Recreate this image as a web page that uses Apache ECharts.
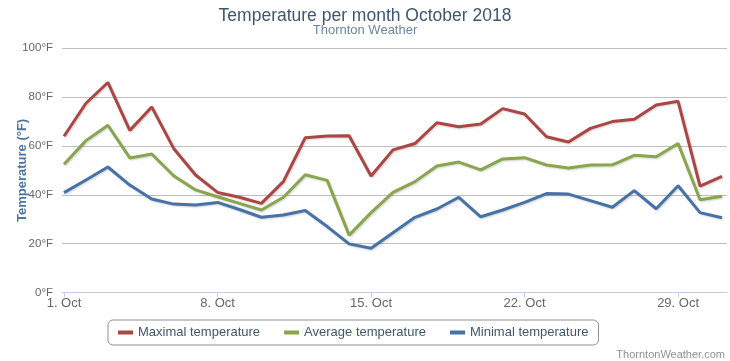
<!DOCTYPE html>
<html><head><meta charset="utf-8">
<script src="https://cdn.jsdelivr.net/npm/echarts@6/dist/echarts.min.js"></script>
<style>html,body{margin:0;padding:0;background:#fff}#c{width:730px;height:361px}</style>
</head><body><div id="c"></div>
<script>
var days = [1,2,3,4,5,6,7,8,9,10,11,12,13,14,15,16,17,18,19,20,21,22,23,24,25,26,27,28,29,30,31];
var tickDays = [1,8,15,22,29];
var maxTemp = [64,77.5,86,66.4,76,59,48.1,41,39,36.5,45.4,63.4,64.1,64.2,47.7,58.4,61,69.5,67.9,69,75.3,73.1,63.8,61.6,67.2,70,70.9,76.8,78.3,43.6,47.6];
var avgTemp = [52.5,62.2,68.5,55.1,56.7,47.8,42,39.2,36.5,33.8,39,48.2,45.9,23.5,32.7,41,45.4,51.8,53.4,50.2,54.7,55.2,52.2,51,52.2,52.3,56.2,55.6,61,38,39.4];
var minTemp = [40.9,46.1,51.4,44,38.3,36.2,35.8,36.9,34,30.8,31.7,33.6,27,19.9,18.1,24.5,30.8,34.2,39,31,33.8,36.9,40.5,40.3,37.6,34.9,41.7,34.3,43.7,32.7,30.6];
var yTicks = [0,20,40,60,80,100];

function pairs(arr){ return days.map(function(d,i){ return [d, arr[i]]; }); }
var FONT = '"Liberation Sans", sans-serif';
function ser(name, color, arr){
  return {name:name, type:'line', data:pairs(arr), showSymbol:false, symbol:'none',
    lineStyle:{color:color, width:3, shadowColor:'rgba(0,0,0,0.18)', shadowBlur:2, shadowOffsetX:1, shadowOffsetY:1},
    itemStyle:{color:color}, animation:false};
}
var chart = echarts.init(document.getElementById('c'), null, {renderer:'canvas'});
chart.setOption({
  animation:false,
  title:[
    {text:'Temperature per month October 2018', left:'center', top:2, textStyle:{fontFamily:FONT, fontSize:17.5, fontWeight:'normal', color:'#3E576F'}},
    {text:'Thornton Weather', left:'center', top:19, textStyle:{fontFamily:FONT, fontSize:13, fontWeight:'normal', color:'#6D869F'}},
    {text:'ThorntonWeather.com', right:0, top:344, textStyle:{fontFamily:FONT, fontSize:11, fontWeight:'normal', color:'#909090'}}
  ],
  grid:{left:62, right:3, top:48.3, bottom:68.5, containLabel:false, outerBoundsMode:'none'},
  legend:{left:108, top:320, width:503, height:27, padding:[6,10,6,10],
    borderColor:'#909090', borderWidth:1, borderRadius:5, itemGap:24, icon:'rect', itemWidth:15, itemHeight:4,
    textStyle:{fontFamily:FONT, fontSize:13, color:'#3E576F'},
    data:['Maximal temperature','Average temperature','Minimal temperature']},
  xAxis:{type:'value', min:0.909, max:31.23,
    axisLine:{show:true, lineStyle:{color:'#C0D0E0', width:1}},
    axisTick:{show:true, length:5, lineStyle:{color:'#C0D0E0'}, customValues:tickDays},
    axisLabel:{customValues:tickDays, formatter:function(v){return v+'. Oct';}, color:'#666', fontFamily:FONT, fontSize:13, margin:4},
    splitLine:{show:false}},
  yAxis:{type:'value', min:0, max:100, interval:20,
    name:'Temperature (°F)', nameLocation:'middle', nameGap:33, nameRotate:90, nameMoveOverlap:false,
    nameTextStyle:{fontFamily:FONT, fontSize:13, fontWeight:'bold', color:'#4D759E'},
    axisLine:{show:false}, axisTick:{show:false},
    axisLabel:{formatter:function(v){return v+'°F';}, color:'#666', fontFamily:FONT, fontSize:11.5, margin:9},
    splitLine:{lineStyle:{color:'#C0C0C0', width:1}}},
  series:[
    ser('Maximal temperature','#AA4643',maxTemp),
    ser('Average temperature','#89A54E',avgTemp),
    ser('Minimal temperature','#4572A7',minTemp)
  ]
});
</script></body></html>
